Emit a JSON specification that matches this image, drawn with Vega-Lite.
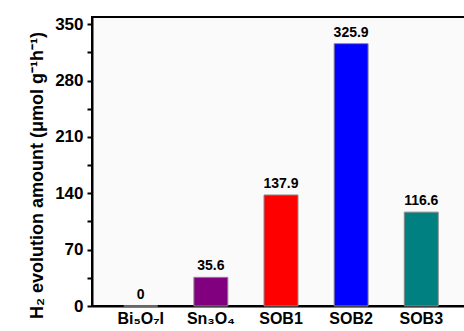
{
  "$schema": "https://vega.github.io/schema/vega-lite/v6.json",
  "autosize": "none",
  "padding": {"left": 92, "top": 17, "right": 0, "bottom": 30},
  "width": 378,
  "height": 289,
  "background": "white",
  "config": {
    "font": "Liberation Sans",
    "view": {"stroke": "black", "strokeWidth": 2, "fill": "#fafafa"}
  },
  "data": {
    "values": [
      {"sample": "Bi₅O₇I", "rate": 0, "label": "0"},
      {"sample": "Sn₃O₄", "rate": 35.6, "label": "35.6"},
      {"sample": "SOB1", "rate": 137.9, "label": "137.9"},
      {"sample": "SOB2", "rate": 325.9, "label": "325.9"},
      {"sample": "SOB3", "rate": 116.6, "label": "116.6"}
    ]
  },
  "encoding": {
    "x": {
      "field": "sample",
      "type": "nominal",
      "sort": null,
      "scale": {"paddingInner": 0.516, "paddingOuter": 0.453},
      "axis": {
        "title": null,
        "labelAngle": 0,
        "labelFont": "Liberation Sans",
        "labelFontWeight": "bold",
        "labelFontSize": 16,
        "labelColor": "black",
        "labelPadding": 4,
        "ticks": false,
        "domainColor": "black",
        "domainWidth": 2
      }
    },
    "y": {
      "field": "rate",
      "type": "quantitative",
      "scale": {"domain": [0, 359], "nice": false},
      "axis": {
        "title": "H₂ evolution amount (μmol g⁻¹h⁻¹)",
        "titleFont": "Liberation Sans",
        "titleFontWeight": "bold",
        "titleFontSize": 18,
        "titleColor": "black",
        "titlePadding": 8,
        "titleY": 158,
        "values": [0, 35, 70, 105, 140, 175, 210, 245, 280, 315, 350],
        "labelExpr": "datum.value % 70 == 0 ? datum.label : ''",
        "labelFont": "Liberation Sans",
        "labelFontWeight": "bold",
        "labelFontSize": 17,
        "labelColor": "black",
        "labelPadding": 4,
        "tickSize": 5,
        "tickWidth": 2,
        "tickColor": "black",
        "domainColor": "black",
        "domainWidth": 2,
        "grid": false
      }
    }
  },
  "layer": [
    {
      "mark": {"type": "bar", "stroke": "#888888", "strokeWidth": 1},
      "encoding": {
        "color": {
          "field": "sample",
          "type": "nominal",
          "sort": null,
          "scale": {
            "domain": ["Bi₅O₇I", "Sn₃O₄", "SOB1", "SOB2", "SOB3"],
            "range": ["#ffff00", "#800080", "#ff0000", "#0000ff", "#008080"]
          },
          "legend": null
        }
      }
    },
    {
      "mark": {
        "type": "text",
        "baseline": "bottom",
        "dy": -4,
        "font": "Liberation Sans",
        "fontWeight": "bold",
        "fontSize": 14,
        "color": "black"
      },
      "encoding": {"text": {"field": "label"}}
    }
  ]
}
